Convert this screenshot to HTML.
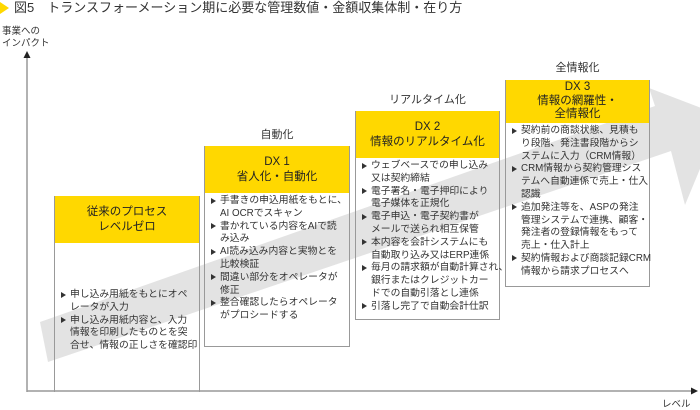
<!DOCTYPE html>
<html><head><meta charset="utf-8"><style>
*{margin:0;padding:0;box-sizing:border-box}
body{width:700px;height:408px;background:#fff;position:relative;overflow:hidden;font-family:"Liberation Sans","Noto Sans CJK JP",sans-serif;color:#333}
.a{position:absolute}
.box{position:absolute;border-left:1px solid #999;border-right:1px solid #999;border-bottom:1px solid #999}
.hd{background:#ffd800;text-align:center;font-size:11.5px;line-height:14.5px;display:flex;flex-direction:column;justify-content:center;color:#222}
.bd{font-size:9.8px;line-height:12.8px;padding:2px 0 0 6px;color:#333;white-space:nowrap}
.bd p{padding-left:9px;position:relative}
.bd p:before{content:"";position:absolute;left:0;top:2.5px;border-left:5px solid #333;border-top:3px solid transparent;border-bottom:3px solid transparent}
.lb{position:absolute;font-size:11px;text-align:center;color:#333}
</style></head><body>
<svg class="a" style="left:0;top:0" width="700" height="408">
<polygon points="0,2 9,8 0,14" fill="#ffd800"/>
<polygon points="40,322 655,106 649,88 722,116 685,205 671,151 48,362" fill="#e3e3e3"/>
<line x1="27" y1="58" x2="27" y2="392" stroke="#999" stroke-width="1.5"/>
<polygon points="27,51 23.5,58 30.5,58" fill="#222"/>
<line x1="27" y1="391" x2="692" y2="391" stroke="#999" stroke-width="1.5"/>
<polygon points="698,391 691,387.5 691,394.5" fill="#222"/>
</svg>
<div class="a" style="left:14px;top:0;font-size:13px;line-height:16px;color:#333">図5　トランスフォーメーション期に必要な管理数値・金額収集体制・在り方</div>
<div class="a" style="left:2px;top:26px;font-size:9.5px;line-height:12px">事業への<br>インパクト</div>
<div class="a" style="left:662px;top:396px;font-size:9.5px">レベル</div>

<div class="box" style="left:54px;top:196px;width:146px;height:196px;border-bottom:none">
<div class="hd" style="height:47px">従来のプロセス<br>レベルゼロ</div>
<div class="bd" style="padding-top:46px"><p>申し込み用紙をもとにオペ<br>レータが入力</p><p>申し込み用紙内容と、入力<br>情報を印刷したものとを突<br>合せ、情報の正しさを確認印</p></div>
</div>

<div class="lb" style="left:204px;top:126px;width:146px">自動化</div>
<div class="box" style="left:204px;top:146px;width:146px;height:201px">
<div class="hd" style="height:47px">DX 1<br>省人化・自動化</div>
<div class="bd"><p>手書きの申込用紙をもとに、<br>AI OCRでスキャン</p><p>書かれている内容をAIで読<br>み込み</p><p>AI読み込み内容と実物とを<br>比較検証</p><p>間違い部分をオペレータが<br>修正</p><p>整合確認したらオペレータ<br>がプロシードする</p></div>
</div>

<div class="lb" style="left:355px;top:91px;width:145px">リアルタイム化</div>
<div class="box" style="left:355px;top:111px;width:145px;height:209px">
<div class="hd" style="height:47px">DX 2<br>情報のリアルタイム化</div>
<div class="bd"><p>ウェブベースでの申し込み<br>又は契約締結</p><p>電子署名・電子押印により<br>電子媒体を正規化</p><p>電子申込・電子契約書が<br>メールで送られ相互保管</p><p>本内容を会計システムにも<br>自動取り込み又はERP連係</p><p>毎月の請求額が自動計算され、<br>銀行またはクレジットカー<br>ドでの自動引落とし連係</p><p>引落し完了で自動会計仕訳</p></div>
</div>

<div class="lb" style="left:505px;top:59px;width:145px">全情報化</div>
<div class="box" style="left:505px;top:80px;width:145px;height:207px">
<div class="hd" style="height:43px;line-height:13.5px">DX 3<br>情報の網羅性・<br>全情報化</div>
<div class="bd"><p>契約前の商談状態、見積も<br>り段階、発注書段階からシ<br>ステムに入力（CRM情報）</p><p>CRM情報から契約管理シス<br>テムへ自動連係で売上・仕入<br>認識</p><p>追加発注等を、ASPの発注<br>管理システムで連携、顧客・<br>発注者の登録情報をもって<br>売上・仕入計上</p><p>契約情報および商談記録CRM<br>情報から請求プロセスへ</p></div>
</div>
</body></html>
